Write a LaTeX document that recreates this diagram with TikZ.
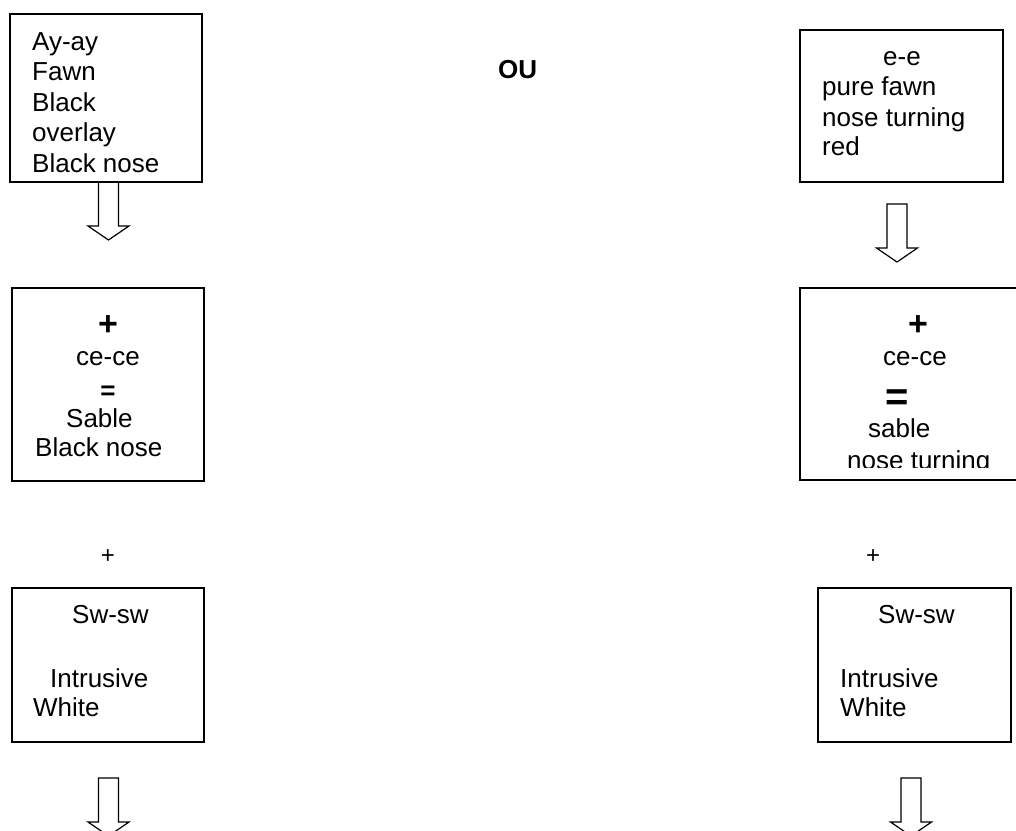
\documentclass[tikz,border=0pt]{standalone}
\usepackage{fontspec}
\setmainfont{Liberation Sans}
\begin{document}
\begin{tikzpicture}[x=1pt,y=-1pt,
  box/.style={draw=black, line width=1.2pt, inner sep=0pt},
  txt/.style={anchor=base west, inner sep=0pt, font=\fontsize{26}{30}\selectfont},
  ctxt/.style={anchor=base, inner sep=0pt, font=\fontsize{26}{30}\selectfont},
  sym/.style={anchor=center, inner sep=0pt},
  blockarrow/.pic={\draw[line width=1.2pt, line join=miter]
     (-10,0) -- (-10,44) -- (-20.5,44) -- (0,58) -- (20.5,44) -- (10,44) -- (10,0) -- cycle;}
]
\useasboundingbox (0,0) rectangle (1016,830);
\clip (0,0) rectangle (1016,830);

% boxes
\node[box, minimum width=192pt, minimum height=168pt] (b1) at (106,98) {};
\node[box, minimum width=203pt, minimum height=152pt] (b2) at (901.5,106) {};
\node[box, minimum width=192pt, minimum height=193pt] (b3) at (108,384.5) {};
\node[box, minimum width=240pt, minimum height=192pt] (b4) at (920,384) {};
\node[box, minimum width=192pt, minimum height=154pt] (b5) at (108,665) {};
\node[box, minimum width=193pt, minimum height=154pt] (b6) at (914.5,665) {};

% arrows
\coordinate (a1) at (108.5,182);
\coordinate (a2) at (897,204);
\coordinate (a5) at (108.5,778);
\coordinate (a6) at (911,778);
\pic at (a1) {blockarrow};
\pic at (a2) {blockarrow};
\pic at (a5) {blockarrow};
\pic at (a6) {blockarrow};

% box 1
\node[txt] (t1a) at (32,50) {Ay-ay};
\node[txt] (t1b) at (32,80.5) {Fawn};
\node[txt] (t1c) at (32,111) {Black};
\node[txt] (t1d) at (32,141.5) {overlay};
\node[txt] (t1e) at (32,172) {Black nose};

% OU
\node[anchor=base west, inner sep=0pt, font=\fontsize{26}{30}\selectfont\bfseries] (ou) at (498,78) {OU};

% box 2
\node[ctxt] (t2a) at (902,65) {e-e};
\node[txt] (t2b) at (822,95) {pure fawn};
\node[txt] (t2c) at (822,126) {nose turning};
\node[txt] (t2d) at (822,155) {red};

% box 3
\node[sym, font=\fontsize{34}{34}\selectfont\bfseries] (p3) at (108,326) {+};
\node[ctxt] (t3a) at (108,365) {ce-ce};
\node[sym, font=\fontsize{26}{26}\selectfont\bfseries] (e3) at (108,393) {=};
\node[txt] (t3b) at (66,427) {Sable};
\node[txt] (t3c) at (35,456) {Black nose};

% box 4
\node[sym, font=\fontsize{34}{34}\selectfont\bfseries] (p4) at (918,326) {+};
\node[ctxt] (t4a) at (915,365) {ce-ce};
\node[sym, font=\fontsize{40}{40}\selectfont\bfseries] (e4) at (897,400) {=};
\node[txt] (t4b) at (868,437) {sable};
\begin{scope}
\clip (800,288) rectangle (1016,467);
\node[txt] (t4c) at (847,469) {nose turning};
\end{scope}

% plus signs
\node[sym, font=\fontsize{24}{24}\selectfont] (p5) at (108,557) {+};
\node[sym, font=\fontsize{24}{24}\selectfont] (p6) at (873,557) {+};

% box 5
\node[txt] (t5a) at (72,623) {Sw-sw};
\node[txt] (t5b) at (50,687) {Intrusive};
\node[txt] (t5c) at (33,716) {White};

% box 6
\node[txt] (t6a) at (878,623) {Sw-sw};
\node[txt] (t6b) at (840,687) {Intrusive};
\node[txt] (t6c) at (840,716) {White};
\end{tikzpicture}
\end{document}
